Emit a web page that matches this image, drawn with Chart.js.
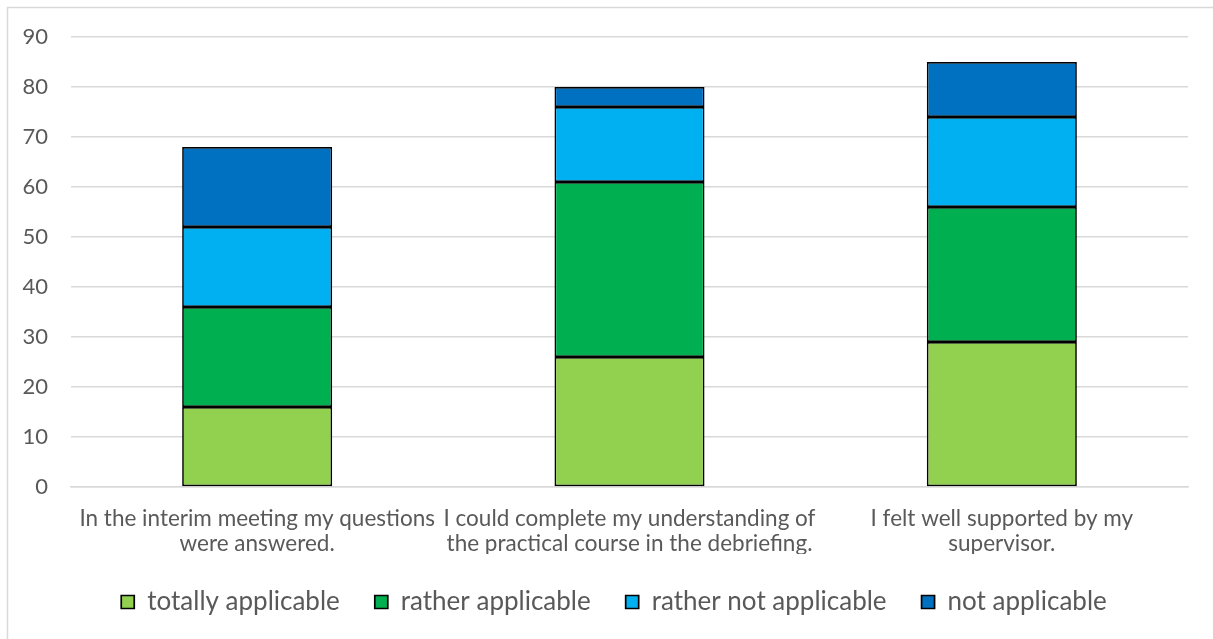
<!DOCTYPE html>
<html>
<head>
<meta charset="utf-8">
<script src="https://cdn.jsdelivr.net/npm/chart.js@4"></script>
<style>
  html, body { margin: 0; padding: 0; background: #ffffff; }
  #wrap { position: absolute; left: 0; top: 0; width: 1213px; height: 639px; }
</style>
</head>
<body>
<div id="wrap"><canvas id="c" width="1213" height="639"></canvas></div>
<script>
const categories = [
  ["In the interim meeting my questions", "were answered."],
  ["I could complete my understanding of", "the practical course in the debriefing."],
  ["I felt well supported by my", "supervisor."]
];
const seriesNames = ["totally applicable", "rather applicable", "rather not applicable", "not applicable"];
const totallyApplicable = [16, 26, 29];
const ratherApplicable = [20, 35, 27];
const ratherNotApplicable = [16, 15, 18];
const notApplicable = [16, 4, 11];
const seriesColors = ["#92D050", "#00B050", "#00B0F0", "#0070C0"];
const yTicks = [0, 10, 20, 30, 40, 50, 60, 70, 80, 90];

const FONT = "Lato";
const TEXT = "#595959";
const LEGEND_SHIFT = 20;

const framePlugin = {
  id: "frame",
  beforeDraw(chart) {
    const ctx = chart.ctx;
    ctx.save();
    ctx.fillStyle = "#ffffff";
    ctx.fillRect(0, 0, chart.width, chart.height);
    ctx.strokeStyle = "#d9d9d9";
    ctx.lineWidth = 1.5;
    ctx.beginPath();
    ctx.moveTo(7.5, chart.height + 5);
    ctx.lineTo(7.5, 7.5);
    ctx.lineTo(chart.width + 5, 7.5);
    ctx.stroke();
    ctx.restore();
  },
  afterLayout(chart) {
    if (chart.legend) {
      chart.legend.left += LEGEND_SHIFT;
      chart.legend.right += LEGEND_SHIFT;
    }
  }
};

const values = [totallyApplicable, ratherApplicable, ratherNotApplicable, notApplicable];

new Chart(document.getElementById("c"), {
  type: "bar",
  data: {
    labels: categories,
    datasets: seriesNames.map((name, i) => ({
      label: name,
      data: values[i],
      backgroundColor: seriesColors[i],
      borderColor: "#000000",
      borderWidth: 1.7,
      borderSkipped: false,
      barPercentage: 0.403,
      categoryPercentage: 1.0
    }))
  },
  options: {
    responsive: false,
    animation: false,
    devicePixelRatio: 1,
    layout: { padding: { left: 0, right: 25, top: 37, bottom: 14 } },
    plugins: {
      legend: {
        position: "bottom",
        labels: {
          font: { family: FONT, size: 26 },
          color: TEXT,
          boxWidth: 13,
          boxHeight: 13,
          padding: 35
        }
      },
      tooltip: { enabled: false }
    },
    scales: {
      x: {
        stacked: true,
        grid: { display: false },
        border: { display: true, color: "#d9d9d9", width: 1.5 },
        ticks: {
          font: { family: FONT, size: 22.5, lineHeight: 1.111 },
          color: TEXT,
          padding: 11.5,
          maxRotation: 0,
          autoSkip: false
        },
        afterFit(scale) { scale.height = 67; }
      },
      y: {
        stacked: true,
        min: 0,
        max: 90,
        afterBuildTicks(scale) { scale.ticks = yTicks.map(v => ({ value: v })); },
        grid: { color: "#d9d9d9", lineWidth: 1.5, drawTicks: false },
        border: { display: false },
        ticks: {
          font: { family: FONT, size: 22 },
          color: TEXT,
          padding: 23
        },
        afterFit(scale) { scale.width = 71; }
      }
    }
  },
  plugins: [framePlugin]
});
</script>
</body>
</html>
